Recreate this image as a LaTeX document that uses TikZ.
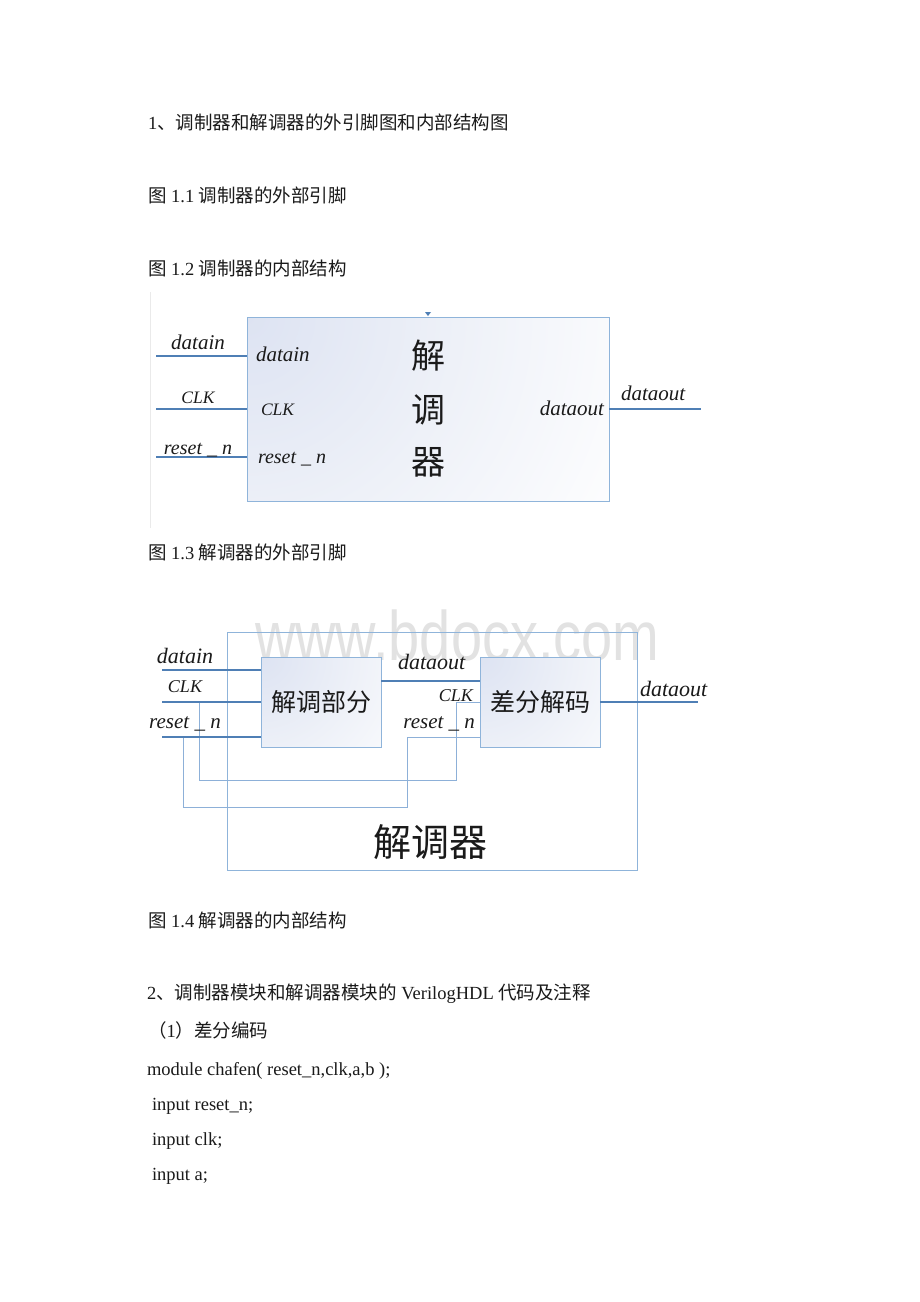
\documentclass[tikz,border=0pt]{standalone}
\usepackage{fontspec}
\usepackage{graphicx}
\setmainfont{Liberation Serif}
\newfontfamily\zh{Noto Sans CJK SC}
\newfontfamily\wmfont{Liberation Sans}
\definecolor{wire}{HTML}{4F7FB5}
\definecolor{thinw}{HTML}{8DB0D8}
\definecolor{boxb}{HTML}{8FB4DA}
\definecolor{shadeb}{HTML}{DDE3F2}
\definecolor{shadem}{HTML}{EEF1F8}
\definecolor{wmc}{HTML}{E2E2E2}
\definecolor{txt}{HTML}{1A1A1A}
\definecolor{faint}{HTML}{EAEAEA}
\pgfdeclareradialshading{cornerfade}{\pgfpointorigin}{color(0bp)=(shadeb); color(12bp)=(shadem); color(25bp)=(white); color(50bp)=(white)}
\begin{document}
\begin{tikzpicture}[x=1pt,y=-1pt,
  every node/.style={inner sep=0pt, outer sep=0pt, text=txt},
  body/.style={anchor=base west, font=\fontsize{18.5}{22}\selectfont},
  thickwire/.style={draw=wire, line width=1.6pt},
  thinwire/.style={draw=thinw, line width=1pt},
  blk/.style={draw=boxb, line width=1pt, rectangle, fill=white,
    path picture={\shade[shading=cornerfade]
      (path picture bounding box.north west) circle (#1);}},
  lab/.style={font=\itshape\fontsize{#1}{#1}\selectfont},
  zhbig/.style={font=\zh\fontsize{#1}{#1}\selectfont},
]
\useasboundingbox[fill=white] (0,0) rectangle (920,1302);

% ---------- body text ----------
\node[body] (t1) at (148,129) {1{\zh 、调制器和解调器的外引脚图和内部结构图}};
\node[body] (c11) at (148,202) {{\zh 图} 1.1 {\zh 调制器的外部引脚}};
\node[body] (c12) at (148,275) {{\zh 图} 1.2 {\zh 调制器的内部结构}};
\node[body] (c13) at (148,559) {{\zh 图} 1.3 {\zh 解调器的外部引脚}};
\node[body] (c14) at (148,927) {{\zh 图} 1.4 {\zh 解调器的内部结构}};
\node[body] (t2) at (147,999) {2{\zh 、调制器模块和解调器模块的} VerilogHDL {\zh 代码及注释}};
\node[body] (t3) at (148,1037) {{\zh （}1{\zh ）差分编码}};
\node[body] (t4) at (147,1075) {module chafen( reset\_n,clk,a,b );};
\node[body] (t5) at (152,1110) {input reset\_n;};
\node[body] (t6) at (152,1145) {input clk;};
\node[body] (t7) at (152,1180) {input a;};

% ---------- figure 1.3 ----------
\draw[faint, line width=0.8pt] (150,292) -- (150,528);
\node[blk=440pt, minimum width=362pt, minimum height=184pt] (dem) at (428,409) {};
\fill[wire] ([xshift=-3pt,yshift=5pt]dem.north) -- ([xshift=3pt,yshift=5pt]dem.north) -- ([yshift=1pt]dem.north) -- cycle;
\coordinate (in1) at (156,356);
\coordinate (in2) at (156,409);
\coordinate (in3) at (156,457);
\coordinate (out1) at (701,409);
\draw[thickwire] (in1) -- (in1 -| dem.west);
\draw[thickwire] (in2) -- (in2 -| dem.west);
\draw[thickwire] (in3) -- (in3 -| dem.west);
\draw[thickwire] (out1 -| dem.east) -- (out1);
\node[lab=21, anchor=base] (l1) at (198,349) {datain};
\node[lab=17.5, anchor=base] (l2) at (198,403) {CLK};
\node[lab=20, anchor=base] (l3) at (198,454) {reset \_ n};
\node[lab=21, anchor=base west] (l4) at (256,361) {datain};
\node[lab=17.5, anchor=base west] (l5) at (261,415) {CLK};
\node[lab=20, anchor=base west] (l6) at (258,463) {reset \_ n};
\node[lab=21, anchor=base east] (l7) at (604,415) {dataout};
\node[lab=21, anchor=base west] (l8) at (621,400) {dataout};
\node[zhbig=34] (z1) at (428,356) {解};
\node[zhbig=34] (z2) at (428,410) {调};
\node[zhbig=34] (z3) at (428,462) {器};

% ---------- figure 1.4 ----------
\node[anchor=base west, font=\wmfont\fontsize{70}{70}\selectfont, text=wmc] (wm) at (255,660) {\scalebox{0.8}[1]{www.bdocx.com}};
\node[draw=boxb, line width=1pt, minimum width=410pt, minimum height=238pt] (outer) at (432,751) {};
\node[blk=200pt, minimum width=120pt, minimum height=90pt, zhbig=25] (b1) at (321,702) {解调部分};
\node[blk=200pt, minimum width=120pt, minimum height=90pt, zhbig=25] (b2) at (540,702) {差分解码};
\coordinate (i1) at (162,670);
\coordinate (i2) at (162,702);
\coordinate (i3) at (162,737);
\coordinate (ck) at (199,702);
\coordinate (rs) at (183,737);
\coordinate (ckturn) at (456,780);
\coordinate (rsturn) at (407,807);
\coordinate (mid) at (381,681);
\coordinate (o2) at (698,702);
\draw[thinwire] (ck) |- (ckturn) |- (ck -| b2.west);
\draw[thinwire] (rs) |- (rsturn) |- (rs -| b2.west);
\draw[thickwire] (i1) -- (i1 -| b1.west);
\draw[thickwire] (i2) -- (i2 -| b1.west);
\draw[thickwire] (i3) -- (i3 -| b1.west);
\draw[thickwire] (mid -| b1.east) -- (mid -| b2.west);
\draw[thickwire] (o2 -| b2.east) -- (o2);
\node[lab=22, anchor=base] (m1) at (185,663) {datain};
\node[lab=18, anchor=base] (m2) at (185,692) {CLK};
\node[lab=21, anchor=base] (m3) at (185,728) {reset \_ n};
\node[lab=22, anchor=base west] (m4) at (398,669) {dataout};
\node[lab=18, anchor=base east] (m5) at (473,701) {CLK};
\node[lab=21, anchor=base east] (m6) at (475,728) {reset \_ n};
\node[lab=22, anchor=base west] (m7) at (640,696) {dataout};
\node[zhbig=38] (big) at (430,842) {解调器};
\end{tikzpicture}
\end{document}
